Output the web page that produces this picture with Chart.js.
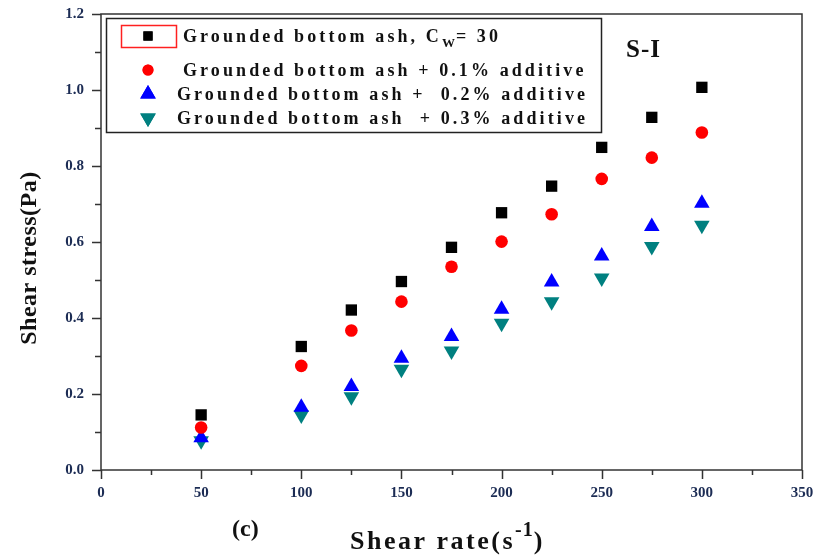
<!DOCTYPE html>
<html lang="en">

<head>
  <meta charset="UTF-8">
  <title>Shear stress vs shear rate</title>
  <script src="https://cdn.jsdelivr.net/npm/chart.js"></script>
  <style>
    body { margin: 0; background: #fff; }
  </style>
</head>

<body>
  <canvas id="rheoChart" width="817" height="558"></canvas>

  <script>
    // shear rate (1/s)
    const shearRate = [50, 100, 125, 150, 175, 200, 225, 250, 275, 300];
    // shear stress (Pa) per sample
    const plainAsh = [0.145, 0.325, 0.421, 0.496, 0.586, 0.677, 0.747, 0.849, 0.928, 1.007];
    const additive01 = [0.112, 0.274, 0.367, 0.443, 0.535, 0.601, 0.673, 0.766, 0.822, 0.888];
    const additive02 = [0.085, 0.165, 0.220, 0.294, 0.351, 0.423, 0.495, 0.563, 0.641, 0.702];
    const additive03 = [0.077, 0.145, 0.193, 0.265, 0.313, 0.386, 0.443, 0.505, 0.588, 0.644];

    const xTicks = [0, 50, 100, 150, 200, 250, 300, 350];
    const yTicks = [0.0, 0.2, 0.4, 0.6, 0.8, 1.0, 1.2];

    const SERIF = '"Liberation Serif", "DejaVu Serif", serif';
    const TICK_COLOR = '#1c2c54';

    function pairs(ys) {
      return shearRate.map((x, i) => ({ x, y: ys[i] }));
    }

    const datasets = [
      { label: 'Grounded bottom ash, C', data: pairs(plainAsh), pointStyle: 'rect', pointRadius: 8, backgroundColor: '#000', rotation: 0, keySize: 6.5 },
      { label: 'Grounded bottom ash + 0.1% additive', data: pairs(additive01), pointStyle: 'circle', pointRadius: 6.3, backgroundColor: '#ff0000', rotation: 0, keySize: 5.5 },
      { label: 'Grounded bottom ash +  0.2% additive', data: pairs(additive02), pointStyle: 'triangle', pointRadius: 9, backgroundColor: '#0000ff', rotation: 0, keySize: 9 },
      { label: 'Grounded bottom ash  + 0.3% additive', data: pairs(additive03), pointStyle: 'triangle', pointRadius: 9, backgroundColor: '#008080', rotation: 180, keySize: 9 }
    ];
    datasets.forEach(d => {
      d.borderWidth = 0;
      d.borderColor = d.backgroundColor;
      d.pointBorderWidth = 0;
      d.showLine = false;
      d.pointRotation = d.rotation;
    });

    // keep the plot box where the layout padding puts it
    function fixBox(size, key) {
      return s => {
        s[key] = size;
        s.paddingTop = 0;
        s.paddingBottom = 0;
        s.paddingLeft = 0;
        s.paddingRight = 0;
      };
    }

    // frame, ticks, titles and the boxed legend
    const decorations = {
      id: 'decorations',
      afterDraw(chart) {
        const ctx = chart.ctx;
        const a = chart.chartArea;
        const xs = chart.scales.x, ys = chart.scales.y;
        ctx.save();

        ctx.strokeStyle = '#333';
        ctx.lineWidth = 1.5;
        ctx.strokeRect(a.left, a.top, a.right - a.left, a.bottom - a.top);

        // all ticks point outwards, minor ones shorter
        ctx.beginPath();
        for (let v = 0; v <= 1.2001; v += 0.1) {
          const py = Math.round(ys.getPixelForValue(v)) + 0.5;
          const major = Math.round(v * 10) % 2 === 0;
          ctx.moveTo(a.left - (major ? 9 : 6), py);
          ctx.lineTo(a.left, py);
        }
        for (let v = 0; v <= 350; v += 25) {
          const px = Math.round(xs.getPixelForValue(v)) + 0.5;
          ctx.moveTo(px, a.bottom);
          ctx.lineTo(px, a.bottom + (v % 50 === 0 ? 9 : 5));
        }
        ctx.stroke();

        ctx.fillStyle = '#111';
        ctx.textBaseline = 'alphabetic';

        // y axis title
        ctx.save();
        ctx.translate(36, 258);
        ctx.rotate(-Math.PI / 2);
        ctx.font = 'bold 24px ' + SERIF;
        ctx.letterSpacing = '0.5px';
        ctx.textAlign = 'center';
        ctx.fillText('Shear stress(Pa)', 0, 0);
        ctx.restore();

        // x axis title with superscript
        ctx.textAlign = 'left';
        ctx.font = 'bold 26px ' + SERIF;
        ctx.letterSpacing = '2.5px';
        let tx = 350;
        ctx.fillText('Shear rate(s', tx, 549);
        tx += ctx.measureText('Shear rate(s').width;
        ctx.font = 'bold 20px ' + SERIF;
        ctx.letterSpacing = '1px';
        ctx.fillText('-1', tx, 536);
        tx += ctx.measureText('-1').width;
        ctx.font = 'bold 26px ' + SERIF;
        ctx.fillText(')', tx, 549);

        ctx.letterSpacing = '0px';
        ctx.font = 'bold 24px ' + SERIF;
        ctx.fillText('(c)', 232, 536);

        ctx.font = 'bold 25px ' + SERIF;
        ctx.letterSpacing = '1px';
        ctx.fillText('S-I', 626, 57);

        // legend
        ctx.strokeStyle = '#222';
        ctx.lineWidth = 1.5;
        ctx.strokeRect(106.5, 18.5, 495, 114);
        ctx.strokeStyle = '#ff2020';
        ctx.lineWidth = 1.5;
        ctx.strokeRect(121.5, 25.5, 55, 22);

        const rows = [
          { y: 36, tx: 183 },
          { y: 70, tx: 183 },
          { y: 94, tx: 177 },
          { y: 118, tx: 177 }
        ];
        datasets.forEach((d, i) => {
          const r = rows[i];
          ctx.fillStyle = d.backgroundColor;
          Chart.helpers.drawPoint(ctx, {
            pointStyle: d.pointStyle,
            radius: d.keySize,
            rotation: d.rotation,
            borderWidth: 0
          }, 148, r.y);
          ctx.fill();

          ctx.fillStyle = '#111';
          ctx.font = 'bold 18px ' + SERIF;
          ctx.letterSpacing = '3.1px';
          ctx.fillText(d.label, r.tx, r.y + 6);
          if (i === 0) {
            let sx = r.tx + ctx.measureText(d.label).width;
            ctx.font = 'bold 13px ' + SERIF;
            ctx.letterSpacing = '0px';
            ctx.fillText('W', sx, r.y + 11);
            sx += ctx.measureText('W').width + 1;
            ctx.font = 'bold 18px ' + SERIF;
            ctx.letterSpacing = '3.1px';
            ctx.fillText('= 30', sx, r.y + 6);
          }
        });

        ctx.restore();
      }
    };

    new Chart(document.getElementById('rheoChart'), {
      type: 'scatter',
      data: { datasets },
      options: {
        responsive: false,
        animation: false,
        layout: { padding: { top: 14, right: 15, left: 0, bottom: 0 } },
        plugins: {
          legend: { display: false },
          tooltip: { enabled: false }
        },
        scales: {
          x: {
            type: 'linear',
            min: xTicks[0],
            max: xTicks[xTicks.length - 1],
            afterFit: fixBox(88, 'height'),
            afterBuildTicks: s => { s.ticks = xTicks.map(v => ({ value: v })); },
            grid: { display: false, drawTicks: false },
            border: { display: false },
            ticks: {
              padding: 14,
              color: TICK_COLOR,
              font: { family: SERIF, size: 15, weight: 'bold' },
              callback: v => String(v)
            }
          },
          y: {
            type: 'linear',
            min: yTicks[0],
            max: yTicks[yTicks.length - 1],
            afterFit: fixBox(101, 'width'),
            afterBuildTicks: s => { s.ticks = yTicks.map(v => ({ value: v })); },
            grid: { display: false, drawTicks: false },
            border: { display: false },
            ticks: {
              padding: 17,
              color: TICK_COLOR,
              font: { family: SERIF, size: 15, weight: 'bold' },
              callback: v => Number(v).toFixed(1)
            }
          }
        }
      },
      plugins: [decorations]
    });
  </script>
</body>

</html>
